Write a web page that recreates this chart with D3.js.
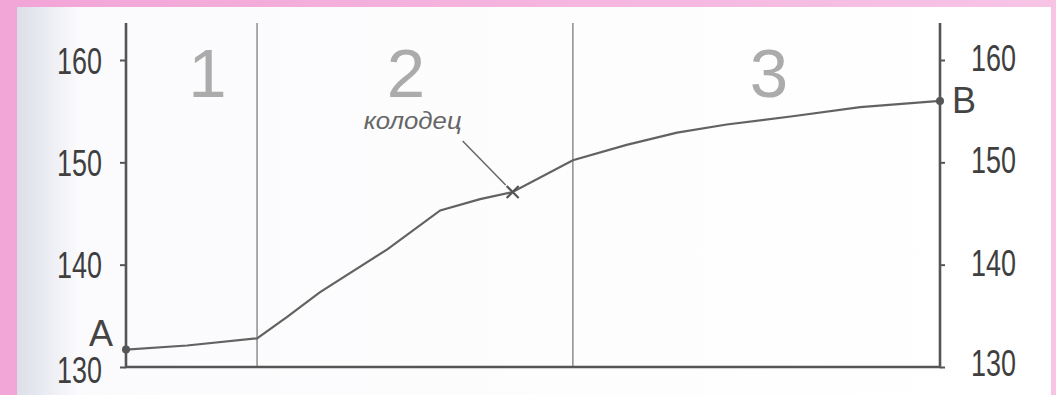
<!DOCTYPE html>
<html>
<head>
<meta charset="utf-8">
<script src="https://cdn.jsdelivr.net/npm/d3@7"></script>
<style>
  html, body { margin: 0; padding: 0; background: #f4acd9; }
  svg { display: block; }
</style>
</head>
<body>
<div id="profile"></div>
<script>
// profile data (distance along route, arbitrary units 0..100; elevation in m)
const distance  = [0, 7.5, 16.1, 19.8, 23.8, 32.1, 38.6, 43.5, 47.5, 54.9, 61.5, 67.7, 73.8, 81.9, 90.2, 100]
const elevation = [131.7, 132.1, 132.8, 134.9, 137.3, 141.5, 145.3, 146.4, 147.1, 150.2, 151.7, 152.9, 153.7, 154.5, 155.4, 156.0]

const yTicks = [130, 140, 150, 160]
const zoneNames = ['1', '2', '3']
const zoneBorders = [16.1, 54.9]       // section dividers
const zoneLabelAt = [10, 34.4, 79]     // where the section numbers sit
const well = {d: 47.5, v: 147.1, name: 'колодец'}
const ends = [{name: 'A', d: 0, v: 131.7}, {name: 'B', d: 100, v: 156.0}]

const width = 1056
const height = 395

const svg = d3.select('#profile')
  .append('svg')
    .attr('width', width)
    .attr('height', height)

// backgrounds: pink frame + scanned page
const defs = svg.append('defs')
const pink = defs.append('linearGradient').attr('id', 'pink')
pink.append('stop').attr('offset', '0%').attr('stop-color', '#f2a5d7')
pink.append('stop').attr('offset', '100%').attr('stop-color', '#f7c4e6')
const paper = defs.append('linearGradient').attr('id', 'paper')
paper.append('stop').attr('offset', '0%').attr('stop-color', '#dcdfe9')
paper.append('stop').attr('offset', '6%').attr('stop-color', '#fbfbfd')
paper.append('stop').attr('offset', '100%').attr('stop-color', '#ffffff')

svg.append('rect').attr('width', width).attr('height', height).attr('fill', 'url(#pink)')
svg.append('rect')
  .attr('x', 17).attr('y', 7)
  .attr('width', 1034).attr('height', height - 7)
  .attr('fill', 'url(#paper)')

const x = d3.scaleLinear().domain([0, 100]).range([126, 940])
const y = d3.scaleLinear().domain([130, 160]).range([367, 60])
const axisTop = 23

const ink = '#555'
const tickFont = '"Liberation Sans", Arial, sans-serif'

// section dividers
svg.append('g')
  .selectAll('line')
  .data(zoneBorders)
  .enter()
  .append('line')
    .attr('x1', d => x(d)).attr('x2', d => x(d))
    .attr('y1', axisTop).attr('y2', y(130))
    .attr('stroke', '#7c7c7c')
    .attr('stroke-width', 1.3)

// section numbers
svg.append('g')
  .selectAll('text')
  .data(zoneNames)
  .enter()
  .append('text')
    .attr('x', (d, i) => x(zoneLabelAt[i]))
    .attr('y', 97)
    .attr('text-anchor', 'middle')
    .style('font-family', tickFont)
    .style('font-size', '69px')
    .style('fill', '#ababab')
    .text(d => d)

// axes: left and right with condensed numbers
const leftAxis = svg.append('g')
  .attr('transform', `translate(${x(0)},0)`)
  .call(d3.axisLeft(y).tickValues(yTicks).tickSize(6).tickFormat(d3.format('d')))
const rightAxis = svg.append('g')
  .attr('transform', `translate(${x(100)},0)`)
  .call(d3.axisRight(y).tickValues(yTicks).tickSize(5).tickFormat(d3.format('d')))

;[leftAxis, rightAxis].forEach(function(g) {
  g.select('.domain').remove()
  g.selectAll('.tick line').attr('stroke', ink).attr('stroke-width', 2)
  g.selectAll('.tick text')
    .style('font-family', tickFont)
    .style('font-size', '37px')
    .attr('fill', '#3f3f3f')
    .attr('textLength', 45)
    .attr('lengthAdjust', 'spacingAndGlyphs')
})
leftAxis.selectAll('.tick text').attr('x', -24).attr('dy', (d) => d == 130 ? '0.42em' : '0.36em')
rightAxis.selectAll('.tick text').attr('x', 31).attr('dy', (d) => d == 130 ? '0.22em' : '0.28em')

// frame lines
svg.append('path')
  .attr('d', `M${x(0)},${axisTop}V${y(130)}H${x(100)}V${axisTop}`)
  .attr('fill', 'none')
  .attr('stroke', ink)
  .attr('stroke-width', 2.6)

// the profile line
const pts = distance.map((d, i) => [d, elevation[i]])
const line = d3.line().x(d => x(d[0])).y(d => y(d[1]))
svg.append('path')
  .datum(pts)
  .attr('d', line)
  .attr('fill', 'none')
  .attr('stroke', '#626262')
  .attr('stroke-width', 2.2)

// end points A and B
svg.append('g')
  .selectAll('circle')
  .data(ends)
  .enter()
  .append('circle')
    .attr('cx', d => x(d.d))
    .attr('cy', d => y(d.v))
    .attr('r', 4)
    .attr('fill', '#555')

svg.append('g')
  .selectAll('text')
  .data(ends)
  .enter()
  .append('text')
    .attr('x', d => d.name == 'A' ? x(d.d) - 13 : x(d.d) + 12)
    .attr('y', d => d.name == 'A' ? y(d.v) - 4 : y(d.v) + 12)
    .attr('text-anchor', d => d.name == 'A' ? 'end' : 'start')
    .style('font-family', tickFont)
    .style('font-size', '36px')
    .style('fill', '#444')
    .text(d => d.name)

// the well: cross marker, leader and label
const wx = x(well.d), wy = y(well.v)
svg.append('path')
  .attr('d', `M${wx-6},${wy-6}L${wx+6},${wy+6}M${wx+6},${wy-6}L${wx-6},${wy+6}`)
  .attr('stroke', '#555')
  .attr('stroke-width', 2.2)
svg.append('line')
  .attr('x1', wx - 7).attr('y1', wy - 7)
  .attr('x2', wx - 50).attr('y2', wy - 51)
  .attr('stroke', '#666')
  .attr('stroke-width', 1.5)
svg.append('text')
  .attr('x', wx - 149)
  .attr('y', wy - 63)
  .attr('textLength', 98)
  .attr('lengthAdjust', 'spacingAndGlyphs')
  .style('font-family', tickFont)
  .style('font-style', 'italic')
  .style('font-size', '23px')
  .style('fill', '#666')
  .text(well.name)
</script>
</body>
</html>
